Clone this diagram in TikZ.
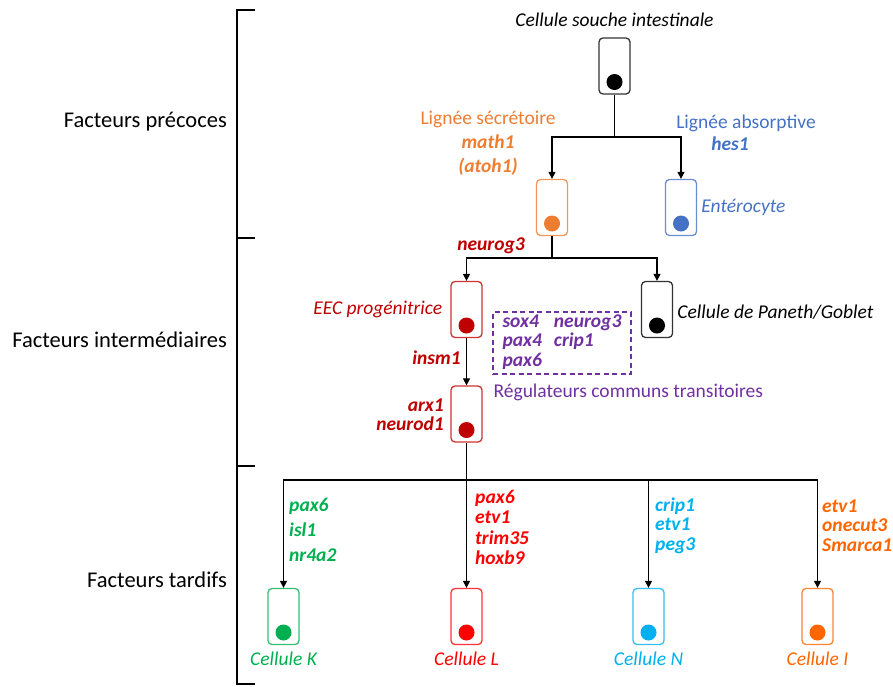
\documentclass[tikz,border=0pt]{standalone}
\usepackage{fontspec}
\setmainfont{Carlito}
\usepackage{tikz}
\usetikzlibrary{positioning,calc,arrows.meta}
\definecolor{secorange}{RGB}{237,125,49}
\definecolor{absblue}{RGB}{68,114,196}
\definecolor{eecred}{RGB}{192,0,0}
\definecolor{regpurple}{RGB}{112,48,160}
\definecolor{kgreen}{RGB}{0,176,80}
\definecolor{lred}{RGB}{255,0,0}
\definecolor{ncyan}{RGB}{0,176,240}
\definecolor{iorange}{RGB}{255,102,0}

\begin{document}
\begin{tikzpicture}[
      x=1pt, y=-1pt,
      >={Triangle[width=7pt,length=7pt]},
      every node/.style={inner sep=1pt, font=\fontsize{19.5}{24}\selectfont},
      cell/.style={
        draw=#1!80, line width=1.3pt, rounded corners=4pt, inner sep=0pt,
        minimum width=31pt, minimum height=56pt,
        path picture={\fill[#1] ([yshift=12pt]path picture bounding box.south) circle (8pt);}
      },
      celltext/.style={font=\fontsize{19.5}{24}\selectfont\itshape},
      gene/.style={font=\fontsize{19.5}{#1}\selectfont\bfseries\itshape, align=left},
      gene/.default=19.5,
      stage/.style={font=\fontsize{22.5}{26}\selectfont, anchor=east},
      link/.style={line width=1.2pt}
    ]
      \useasboundingbox (0,0) rectangle (893,686);

      % stages on the left
      \node[stage] (early) at (228,122) {Facteurs précoces};
      \node[stage] (mid) at (228,340) {Facteurs intermédiaires};
      \node[stage] (late) at (228,580) {Facteurs tardifs};
      \draw[line width=1.6pt] (255,10) -- (237,10) -- (237,684) -- (255,684);
      \draw[line width=1.6pt] (237,238) -- (255,238);
      \draw[line width=1.6pt] (237,466) -- (255,466);

      % cells
      \node[cell=black] (stem) at (614.5,66) {};
      \node[cell=secorange] (sec) at (552,207.5) {};
      \node[cell=absblue] (ent) at (681,207.5) {};
      \node[cell=eecred] (eec) at (466.5,309.5) {};
      \node[cell=black] (paneth) at (657,309.5) {};
      \node[cell=eecred] (eecb) at (466.5,414) {};
      \node[cell=kgreen] (cellk) at (283.5,616.5) {};
      \node[cell=lred] (celll) at (466.5,616.5) {};
      \node[cell=ncyan] (celln) at (648.5,616.5) {};
      \node[cell=iorange] (celli) at (817.5,616.5) {};

      % cell names
      \node[celltext] (stemname) at (614.5,20) {Cellule souche intestinale};
      \node[celltext, absblue, right=3pt of ent] (entname) {Entérocyte};
      \node[celltext, right=3pt of paneth, yshift=-3pt] (panethname) {Cellule de Paneth/Goblet};
      \node[celltext, eecred, left=7pt of eec] (eecname) {EEC progénitrice};
      \node[celltext, kgreen, below=6pt of cellk] (kname) {Cellule K};
      \node[celltext, lred, below=6pt of celll] (lname) {Cellule L};
      \node[celltext, ncyan, below=6pt of celln] (nname) {Cellule N};
      \node[celltext, iorange, below=6pt of celli] (iname) {Cellule I};

      % lineages and factors
      \node[secorange, align=center] (seclbl) at (488,143)
        {Lignée sécrétoire\\\textbf{\textit{math1}}\\\textbf{\textit{(atoh1)}}};
      \node[absblue] (abslbl) at (746,123) {Lignée absorptive};
      \node[gene, absblue] (hes) at (730,144) {hes1};
      \node[gene, eecred] (ngn) at (491,246) {neurog3};
      \node[gene, eecred] (insm) at (436.5,358) {insm1};
      \node[gene=19, eecred, align=right, anchor=east] (arx) at (445,414.5) {arx1\\neurod1};
      \node[draw=regpurple!80, line width=1.2pt, dash pattern=on 5pt off 3.5pt,
        minimum width=138pt, minimum height=62pt, inner sep=0pt,
        font=\fontsize{19.5}{19.5}\selectfont\bfseries\itshape, regpurple] (common) at (562,343)
        {\begin{tabular}{@{}l@{\hspace{12pt}}l@{}}sox4 & neurog3\\pax4 & crip1\\pax6 & \end{tabular}};
      \node[regpurple, anchor=north west] (commonlbl) at ([yshift=-8pt]common.south west)
        {Régulateurs communs transitoires};
      \node[gene=25, kgreen, anchor=west] (kgenes) at (288,530) {pax6\\isl1\\nr4a2};
      \node[gene=20.3, lred, anchor=west] (lgenes) at (474,527.5) {pax6\\etv1\\trim35\\hoxb9};
      \node[gene, ncyan, anchor=west] (ngenes) at (654,525.5) {crip1\\etv1\\peg3};
      \node[gene, iorange, anchor=west] (igenes) at (821,525.5) {etv1\\onecut3\\Smarca1};

      % connectors
      \coordinate (split1) at (614.5,137);
      \coordinate (split2) at (552,258);
      \coordinate (split3) at (466.5,480);
      \draw[link] (stem) -- (split1);
      \draw[link,->] (split1) -| (sec);
      \draw[link,->] (split1) -| (ent);
      \draw[link] (sec) -- (split2);
      \draw[link,->] (split2) -| (eec);
      \draw[link,->] (split2) -| (paneth);
      \draw[link,->] (eec) -- (eecb);
      \draw[link] (eecb) -- (split3);
      \draw[link,->] (split3) -| (cellk);
      \draw[link,->] (split3) -- (celll);
      \draw[link,->] (split3) -| (celln);
      \draw[link,->] (split3) -| (celli);
    \end{tikzpicture}
\end{document}
